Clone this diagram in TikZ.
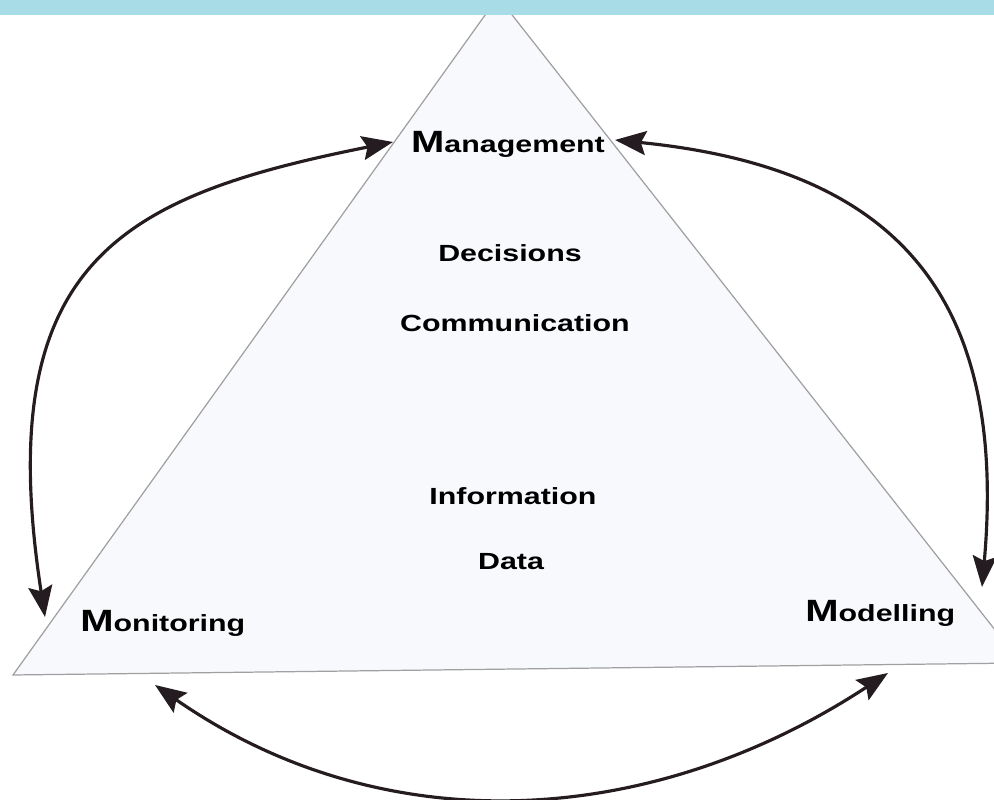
\documentclass[tikz,border=0pt]{standalone}
\usepackage{fontspec}
\newfontfamily\labelfont[FakeStretch=1.3]{Liberation Sans}
\usetikzlibrary{arrows.meta}
\definecolor{stripcyan}{HTML}{A8DDE8}
\definecolor{pyramidfill}{HTML}{F7F9FC}
\definecolor{pyramidline}{HTML}{A0A0A0}
\definecolor{cycleink}{HTML}{241C20}
\newcommand{\bigM}{{\fontsize{17.5}{20}\selectfont M}}

\begin{document}
\begin{tikzpicture}[x=0.02cm,y=0.02cm,
 lvl/.style={font=\labelfont\bfseries\fontsize{13.3}{16}\selectfont,inner sep=0pt},
 link/.style={{Stealth[length=6.2mm,width=4.8mm,inset=1mm]}-{Stealth[length=6.2mm,width=4.8mm,inset=1mm]},line width=1.8pt,cycleink}]
\useasboundingbox (0,0) rectangle (994,800);
\clip (0,0) rectangle (994,800);
\draw[pyramidline,fill=pyramidfill,line width=.7pt] (13,125) -- (498,803) -- (1021,137) -- cycle;
\fill[stripcyan] (0,785) rectangle (994,800);
\node[lvl,anchor=base] (mgmt) at (508,647) {\bigM anagement};
\node[lvl,anchor=base] (dec) at (510,538) {Decisions};
\node[lvl,anchor=base] (comm) at (515,468) {Communication};
\node[lvl,anchor=base] (info) at (513,295) {Information};
\node[lvl,anchor=base] (data) at (511,230) {Data};
\node[lvl,anchor=base west] (mon) at (80,168) {\bigM onitoring};
\node[lvl,anchor=base west] (mod) at (805,178) {\bigM odelling};
\coordinate (monA) at (45,183);
\coordinate (monB) at (155,115);
\coordinate (mgA) at (393,658);
\coordinate (mgB) at (615,660);
\coordinate (modA) at (982,213);
\coordinate (modB) at (888,127);
\draw[link] (monA) .. controls +(-55,357) and +(-270,-54) .. (mgA);
\draw[link] (mgB) .. controls +(270,-27) and +(27,302) .. (modA);
\draw[link] (monB) .. controls +(230,-160) and +(-236,-155) .. (modB);
\end{tikzpicture}
\end{document}
